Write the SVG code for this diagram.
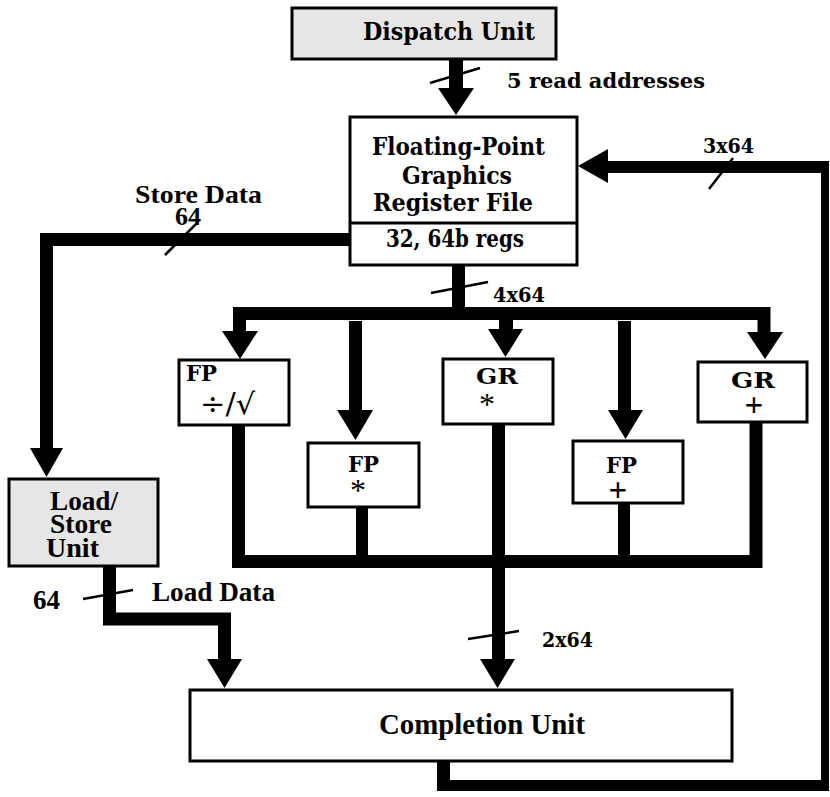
<svg xmlns="http://www.w3.org/2000/svg" width="830" height="797" viewBox="0 0 830 797">
<style>
.box{fill:#fff;stroke:#000;stroke-width:3}
.gray{fill:#e6e6e6;stroke:#000;stroke-width:3}
.c{font-family:"DejaVu Serif",serif;font-weight:bold;fill:#000}
.t{font-family:"Liberation Serif","Times New Roman",serif;font-weight:bold;fill:#000}
.bar{fill:none;stroke:#000;stroke-width:13;stroke-linejoin:miter}
.sl{stroke:#000;stroke-width:2.5;fill:none}
</style>
<rect width="830" height="797" fill="#fff"/>
<g id="connectors">
  <rect x="449" y="58" width="14" height="31"/>
  <polygon points="438,88 474,88 456,115"/>
  <rect x="452" y="264" width="13" height="56"/>
  <path class="bar" d="M239.5 332 V313.5 H764 V333"/>
  <polygon points="222,331 258,331 240,359"/>
  <polygon points="747,332 783,332 765,359"/>
  <rect x="349" y="321" width="13" height="90"/>
  <polygon points="337,410 373,410 355.5,440"/>
  <rect x="499" y="319" width="14" height="11"/>
  <polygon points="488,329 523,329 505.5,357"/>
  <rect x="618" y="321" width="13" height="90"/>
  <polygon points="608,410 643,410 625.5,439"/>
  <path class="bar" d="M238.5 425 V561.5 H756 V422"/>
  <rect x="356" y="507" width="12" height="50"/>
  <rect x="618" y="503" width="12" height="53"/>
  <rect x="492" y="423" width="13" height="237"/>
  <polygon points="480,659 515,659 497.5,688"/>
  <path class="bar" d="M109.5 566 V619 H224.5 V660"/>
  <polygon points="207,659 242,659 224.5,688"/>
  <path class="bar" d="M351 239.5 H46.5 V449"/>
  <polygon points="30,448 63,448 46.5,477"/>
  <rect x="437" y="760" width="13" height="31"/>
  <rect x="437" y="780" width="392" height="11"/>
  <rect x="821" y="161" width="8" height="630"/>
  <rect x="606" y="161" width="223" height="12"/>
  <polygon points="578,166 608,149 608,183"/>
  <line class="sl" x1="430" y1="83" x2="480" y2="68"/>
  <line class="sl" x1="165" y1="255" x2="197" y2="223"/>
  <line class="sl" x1="709" y1="189" x2="733" y2="158"/>
  <line class="sl" x1="431" y1="293" x2="488" y2="282"/>
  <line class="sl" x1="468" y1="639" x2="519" y2="631"/>
  <line class="sl" x1="83" y1="599" x2="133" y2="590"/>
  <text class="c" x="507" y="88" font-size="21" textLength="198" lengthAdjust="spacingAndGlyphs">5 read addresses</text>
  <text class="t" x="135" y="203" font-size="26" textLength="127" lengthAdjust="spacingAndGlyphs">Store Data</text>
  <text class="t" x="175" y="225" font-size="26">64</text>
  <text class="c" x="703" y="153" font-size="21" textLength="51" lengthAdjust="spacingAndGlyphs">3x64</text>
  <text class="c" x="493" y="302" font-size="21" textLength="52" lengthAdjust="spacingAndGlyphs">4x64</text>
  <text class="c" x="542" y="647" font-size="21" textLength="51" lengthAdjust="spacingAndGlyphs">2x64</text>
  <text class="t" x="33" y="609" font-size="27">64</text>
  <text class="t" x="152" y="601" font-size="27" textLength="123" lengthAdjust="spacingAndGlyphs">Load Data</text>
</g>
<g id="dispatch">
  <rect class="gray" x="292" y="8" width="264" height="51"/>
  <text class="c" x="363" y="40" font-size="24" textLength="172" lengthAdjust="spacingAndGlyphs">Dispatch Unit</text>
</g>
<g id="regfile">
  <rect class="box" x="350" y="117" width="227" height="148"/>
  <line x1="350" y1="223" x2="577" y2="223" stroke="#000" stroke-width="3"/>
  <text class="c" x="372" y="155" font-size="24" textLength="173" lengthAdjust="spacingAndGlyphs">Floating-Point</text>
  <text class="c" x="402" y="184" font-size="24" textLength="110" lengthAdjust="spacingAndGlyphs">Graphics</text>
  <text class="c" x="373" y="211" font-size="24" textLength="160" lengthAdjust="spacingAndGlyphs">Register File</text>
  <text class="c" x="386" y="247" font-size="24" textLength="138" lengthAdjust="spacingAndGlyphs">32, 64b regs</text>
</g>
<g id="fpdiv">
  <rect class="box" x="179" y="360" width="110" height="65"/>
  <text class="c" x="186" y="381" font-size="22" textLength="31" lengthAdjust="spacingAndGlyphs">FP</text>
  <text x="200" y="414" font-family="DejaVu Serif,serif" font-size="29" textLength="55" lengthAdjust="spacingAndGlyphs">÷/√</text>
</g>
<g id="fpmul">
  <rect class="box" x="308" y="443" width="111" height="64"/>
  <text class="c" x="348" y="472" font-size="23" textLength="31" lengthAdjust="spacingAndGlyphs">FP</text>
  <text x="358" y="501" font-family="Liberation Serif,serif" font-size="32" text-anchor="middle">*</text>
</g>
<g id="grmul">
  <rect class="box" x="443" y="359" width="110" height="65"/>
  <text class="c" x="476" y="384" font-size="23" textLength="42" lengthAdjust="spacingAndGlyphs">GR</text>
  <text x="487" y="415" font-family="Liberation Serif,serif" font-size="32" text-anchor="middle">*</text>
</g>
<g id="fpadd">
  <rect class="box" x="573" y="441" width="110" height="62"/>
  <text class="c" x="606" y="473" font-size="23" textLength="31" lengthAdjust="spacingAndGlyphs">FP</text>
  <text x="618" y="501" font-family="Liberation Serif,serif" font-weight="bold" font-size="33" text-anchor="middle">+</text>
</g>
<g id="gradd">
  <rect class="box" x="698" y="362" width="109" height="60"/>
  <text class="c" x="731" y="388" font-size="23" textLength="44" lengthAdjust="spacingAndGlyphs">GR</text>
  <text x="754" y="416" font-family="Liberation Serif,serif" font-weight="bold" font-size="33" text-anchor="middle">+</text>
</g>
<g id="loadstore">
  <rect class="gray" x="9" y="479" width="149" height="87"/>
  <text class="t" x="50" y="510" font-size="27" textLength="68" lengthAdjust="spacingAndGlyphs">Load/</text>
  <text class="t" x="50" y="533" font-size="27" textLength="62" lengthAdjust="spacingAndGlyphs">Store</text>
  <text class="t" x="46" y="557" font-size="27" textLength="53" lengthAdjust="spacingAndGlyphs">Unit</text>
</g>
<g id="completion">
  <rect class="box" x="190" y="690" width="542" height="71"/>
  <text class="t" x="379" y="734" font-size="29" textLength="206" lengthAdjust="spacingAndGlyphs">Completion Unit</text>
</g>
</svg>
